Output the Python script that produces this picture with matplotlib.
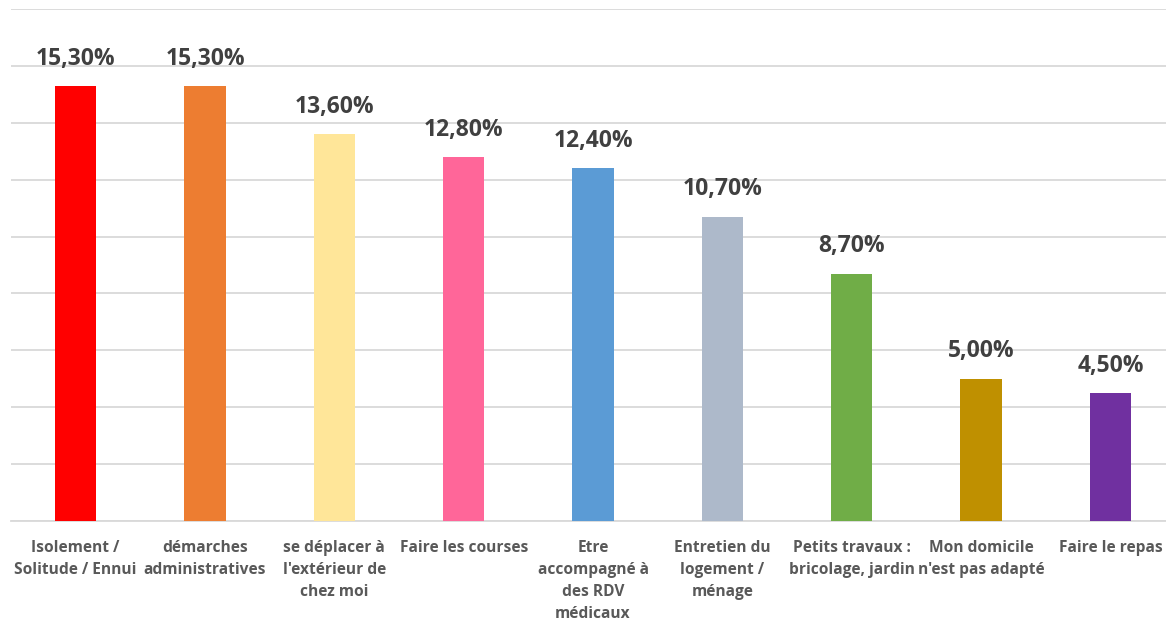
import matplotlib.pyplot as plt

categories = [
    "Isolement /\nSolitude / Ennui",
    "démarches\nadministratives",
    "se déplacer à\nl'extérieur de\nchez moi",
    "Faire les courses",
    "Etre\naccompagné à\ndes RDV\nmédicaux",
    "Entretien du\nlogement /\nménage",
    "Petits travaux :\nbricolage, jardin",
    "Mon domicile\nn'est pas adapté",
    "Faire le repas",
]
values = [15.3, 15.3, 13.6, 12.8, 12.4, 10.7, 8.7, 5.0, 4.5]
colors = ["#FF0000", "#ED7D31", "#FFE699", "#FF6699", "#5B9BD5",
          "#ADB9CA", "#70AD47", "#BF9000", "#7030A0"]

plt.rcParams['font.family'] = ['Open Sans', 'DejaVu Sans']

fig = plt.figure(figsize=(11.66, 6.22), dpi=100)
ax = fig.add_axes([11 / 1166, 1 - 521 / 622, 1155 / 1166, 512 / 622])

x = range(len(values))
ax.bar(x, values, width=0.32, color=colors, zorder=3)

for xi, v in zip(x, values):
    ax.annotate(f"{v:.2f}%".replace(".", ","), (xi, v), xytext=(0, 11),
                textcoords="offset points", ha="center", va="bottom",
                fontsize=16.5, fontweight="bold", color="#404040")

ax.set_xlim(-0.5, 8.43)
ax.set_ylim(0, 18)
ax.set_yticks(range(0, 19, 2))
ax.set_yticklabels([])
ax.tick_params(axis="y", length=0)
ax.grid(axis="y", color="#D9D9D9", linewidth=1.3, zorder=0)

ax.set_xticks(list(x))
ax.set_xticklabels(categories, fontsize=11.2, fontweight="bold", color="#595959",
                   linespacing=1.5, va="top")
ax.tick_params(axis="x", length=0, pad=14)

for side in ["top", "right", "left"]:
    ax.spines[side].set_visible(False)
ax.spines["bottom"].set_color("#D9D9D9")
ax.spines["bottom"].set_linewidth(1.3)

fig.savefig("out.png", dpi=100)
